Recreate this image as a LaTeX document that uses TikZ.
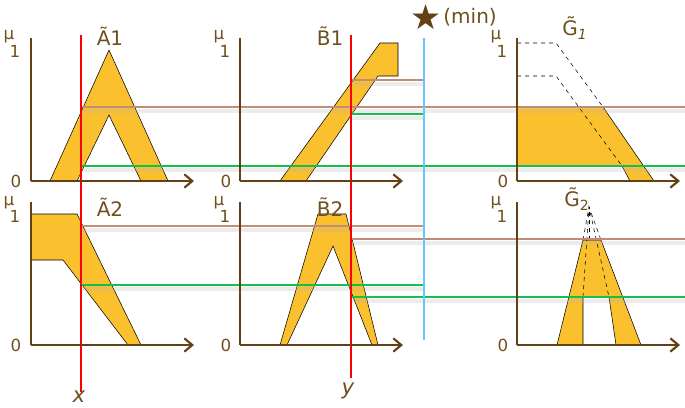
\documentclass[tikz,border=0pt]{standalone}
\usepackage{fontspec}
\setmainfont{DejaVu Sans}
\usetikzlibrary{arrows.meta}
\definecolor{fuzzy}{RGB}{251,192,45}
\definecolor{axisbrown}{RGB}{100,65,20}
\definecolor{txtbrown}{RGB}{110,80,30}
\definecolor{cutbrown}{RGB}{195,140,120}
\definecolor{cutgreen}{RGB}{20,190,80}
\definecolor{minblue}{RGB}{100,200,250}
\tikzset{
  axis/.style={draw=axisbrown,line width=1.6pt,-{Straight Barb[length=6pt,width=10pt]}},
  yaxis/.style={draw=axisbrown,line width=1.6pt},
  mf/.style={fill=fuzzy,draw=black,line width=0.4pt},
  cut/.style={line width=1.4pt},
  shade/.style={draw=black!30,line width=3pt,opacity=0.25},
  guide/.style={draw=black,dashed,line width=0.4pt},
  lbl/.style={text=txtbrown,font=\fontsize{15}{17}\selectfont,inner sep=0pt},
  mu/.style={text=txtbrown,font=\fontsize{12.5}{14}\selectfont,inner sep=0pt}
}
\begin{document}
\begin{tikzpicture}[x=0.75pt,y=0.75pt,yscale=-1,xscale=1]
\useasboundingbox (0,0) rectangle (685,407);

% fuzzy sets
\draw[mf] (50,181) -- (109,50) -- (168,181) -- (141,181) -- (109,115) -- (77,181) -- cycle;
\draw[mf] (280,181) -- (380,43) -- (398,43) -- (398,76) -- (378,76) -- (306,181) -- cycle;
\draw[mf] (517,107) -- (603,107) -- (654,181) -- (630,181) -- (622,166) -- (517,166) -- cycle;
\draw[mf] (31,214) -- (77,214) -- (141,345) -- (128,345) -- (63,260) -- (31,260) -- cycle;
\draw[mf] (280,345) -- (318,214) -- (346,214) -- (378,345) -- (372,345) -- (333,246) -- (287,345) -- cycle;
\draw[mf] (557,345) -- (583,240) -- (601,240) -- (641,345) -- (616,345) -- (609,297) -- (583,297) -- (583,345) -- cycle;

% dashed parts
\draw[guide] (517,43) -- (556,43) -- (603,107);
\draw[guide] (517,76) -- (556,76) -- (622,166);
\draw[guide] (583,240) -- (589,207) -- (601,240);
\draw[guide] (583,297) -- (589,207) -- (609,297);
\draw[guide] (589,240) -- (589,207);

% shadows of cut lines
\foreach \y/\a/\b in {107/81/685, 166/81/685, 226/81/423, 285/81/423, 239/351/685, 297/351/685, 80/351/423, 114/351/423}
  \draw[shade] (\a,\y+4) -- (\b,\y+4);

% cut lines
\draw[cut,cutbrown] (81,107) -- (685,107);
\draw[cut,cutgreen] (81,166) -- (685,166);
\draw[cut,cutbrown] (81,226) -- (423,226);
\draw[cut,cutgreen] (81,285) -- (423,285);
\draw[cut,cutbrown] (351,80) -- (423,80);
\draw[cut,cutgreen] (351,114) -- (423,114);
\draw[cut,cutbrown] (351,239) -- (685,239);
\draw[cut,cutgreen] (351,297) -- (685,297);

% inputs and min
\draw[red,line width=1.5pt] (81,35) -- (81,392);
\draw[red,line width=1.5pt] (351,35) -- (351,378);
\draw[minblue,line width=2pt] (424,38) -- (424,340);

% axes
\foreach \ox in {31,240,517} {
  \draw[yaxis] (\ox,38) -- (\ox,181);
  \draw[axis] (\ox,181) -- (\ox+163,181);
  \draw[yaxis] (\ox,202) -- (\ox,345);
  \draw[axis] (\ox,345) -- (\ox+163,345);
}
\foreach \ox in {0,210,487} {
  \node[mu] at (\ox+9,37) {μ};
  \node[mu] at (\ox+15,51) {1};
  \node[mu] at (\ox+16,181) {0};
  \node[mu] at (\ox+9,203) {μ};
  \node[mu] at (\ox+15,216) {1};
  \node[mu] at (\ox+16,345) {0};
}

% labels
\node[lbl] (setA1) at (110,36) {\~A1};
\node[lbl] (setA2) at (110,207) {\~A2};
\node[lbl] (setB1) at (330,36) {\~B1};
\node[lbl] (setB2) at (330,207) {\~B2};
\node[lbl] (setG1) at (575,28) {\~G\textsubscript{\itshape 1}};
\node[lbl] (setG2) at (577,199) {\~G\textsubscript{2}};
\node[lbl,font=\fontsize{16}{18}\selectfont\itshape] (inx) at (79,397) {x};
\node[lbl,font=\fontsize{16}{18}\selectfont\itshape] (iny) at (348,391) {y};
\node[text=axisbrown,font=\fontsize{26}{28}\selectfont,inner sep=0pt] (star) at (426,17) {★};
\node[lbl,anchor=west,inner sep=1pt] (minlbl) at (star.east) {(min)};
\end{tikzpicture}
\end{document}
